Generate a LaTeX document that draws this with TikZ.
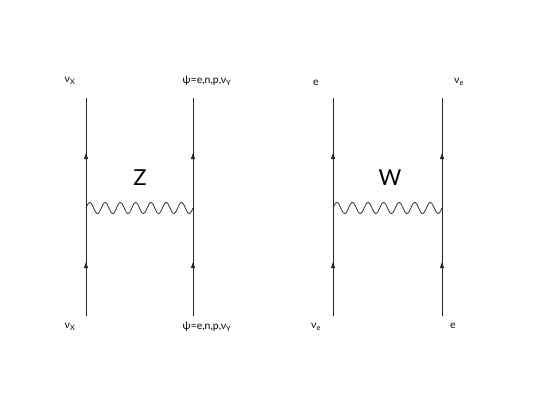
\documentclass[tikz,border=0pt]{standalone}
\usepackage{fontspec}
\setmainfont{Lato}
\usetikzlibrary{decorations.markings,arrows.meta}
\tikzset{
  fermion/.style={line width=0.8pt, draw=black!85,
    postaction={decorate, decoration={markings,
      mark=at position 0.5 with {\arrow{Triangle[width=4pt,length=6pt]}}}}},
  boson/.style={line width=0.8pt, draw=black!80},
  lbl/.style={font=\fontsize{10.5}{12}\selectfont, inner sep=0pt},
  big/.style={font=\fontsize{22}{24}\selectfont, inner sep=0pt}
}
\begin{document}
\begin{tikzpicture}[x=1pt,y=-1pt]
\useasboundingbox (0,0) rectangle (554,415);
% left diagram
\coordinate (LAt) at (86,98);
\coordinate (LAv) at (86,208);
\coordinate (LAb) at (86,316);
\coordinate (LBt) at (193,98);
\coordinate (LBv) at (193,208);
\coordinate (LBb) at (193,316);
\draw[fermion] (LAb) -- (LAv);
\draw[fermion] (LAv) -- (LAt);
\draw[fermion] (LBb) -- (LBv);
\draw[fermion] (LBv) -- (LBt);
\begin{scope}[shift={(LAv)}]
\draw[boson] plot[smooth, domain=0:107, samples=160] (\x,{-5.5*sin((\x/107)*2520)});
\end{scope}
\node[big] (Z) at (140,178) {Z};
\node[lbl] (l1) at (70,81) {ν\textsubscript{X}};
\node[lbl] (l2) at (207,81) {ψ=e,n,p,ν\textsubscript{Y}};
\node[lbl] (l3) at (70,327) {ν\textsubscript{X}};
\node[lbl] (l4) at (207,327) {ψ=e,n,p,ν\textsubscript{Y}};
% right diagram
\coordinate (RAt) at (333,98);
\coordinate (RAv) at (333,208);
\coordinate (RAb) at (333,316);
\coordinate (RBt) at (442,98);
\coordinate (RBv) at (442,208);
\coordinate (RBb) at (442,316);
\draw[fermion] (RAb) -- (RAv);
\draw[fermion] (RAv) -- (RAt);
\draw[fermion] (RBb) -- (RBv);
\draw[fermion] (RBv) -- (RBt);
\begin{scope}[shift={(RAv)}]
\draw[boson] plot[smooth, domain=0:109, samples=160] (\x,{-5.5*sin((\x/109)*2520)});
\end{scope}
\node[big] (W) at (390,178) {W};
\node[lbl] (r1) at (316,83) {e};
\node[lbl] (r2) at (459,82) {ν\textsubscript{e}};
\node[lbl] (r3) at (316,327) {ν\textsubscript{e}};
\node[lbl] (r4) at (453,326) {e};
\end{tikzpicture}
\end{document}
